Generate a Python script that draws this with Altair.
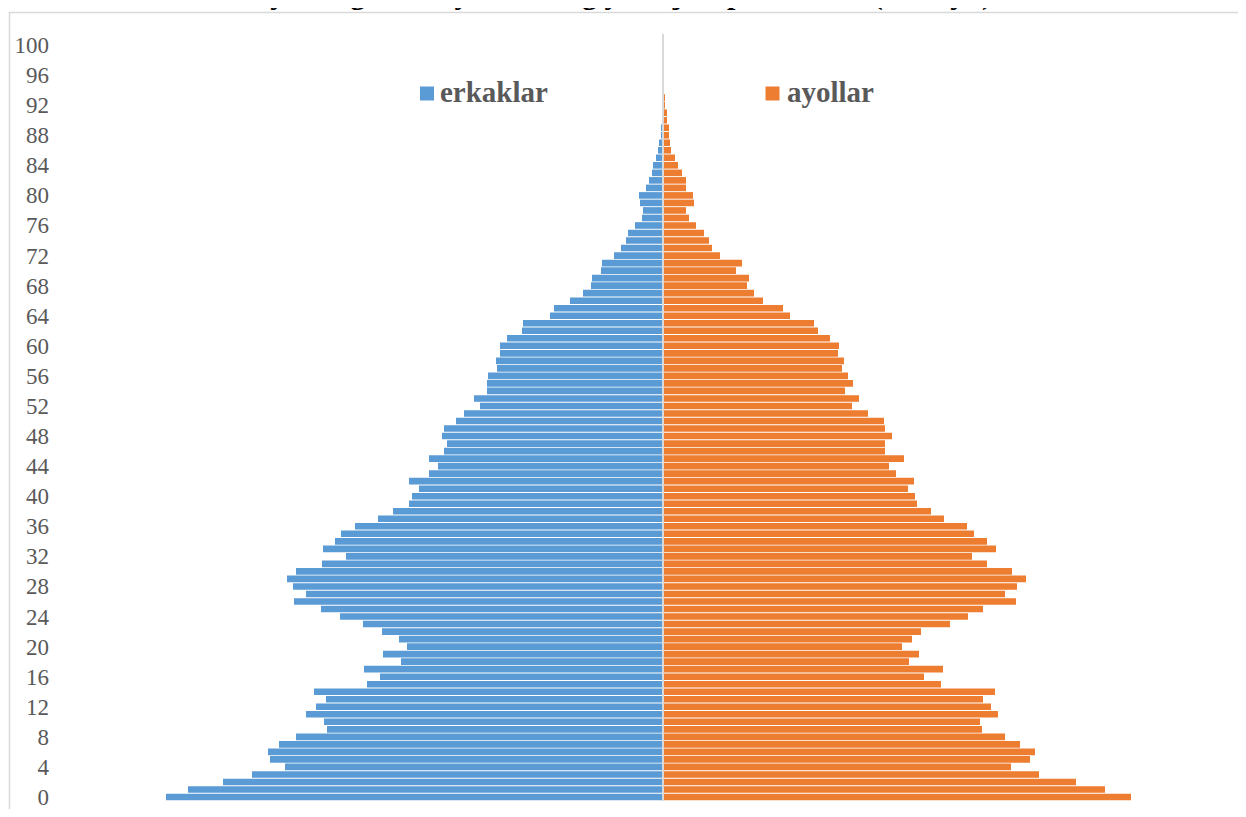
import altair as alt
import pandas as pd

# ---- data (bar lengths, arbitrary units) ----
ages = list(range(0, 101))
male = [497, 475, 440, 411, 378, 393, 395, 384, 367, 336,
        339, 357, 347, 337, 349, 296, 283, 299, 262, 280,
        256, 264, 281, 300, 323, 342, 369, 357, 370, 376,
        367, 341, 317, 340, 328, 322, 308, 285, 270, 254,
        251, 244, 254, 234, 225, 234, 219, 216, 221, 219,
        207, 199, 183, 189, 176, 176, 175, 166, 167, 163,
        163, 156, 141, 140, 113, 109, 93, 80, 72, 71,
        62, 61, 49, 42, 37, 35, 28, 21, 20, 23,
        24, 17, 14, 11, 10, 7, 5, 4, 2, 2,
        1, 1, 0.5, 0.3, 0, 0, 0, 0, 0, 0, 0]
female = [468, 442, 413, 376, 348, 367, 372, 357, 342, 319,
          317, 335, 328, 320, 332, 278, 261, 280, 246, 256,
          239, 249, 258, 287, 305, 320, 353, 342, 354, 363,
          349, 324, 309, 333, 324, 311, 304, 281, 268, 254,
          252, 245, 251, 233, 226, 241, 222, 222, 229, 222,
          221, 205, 189, 196, 182, 190, 185, 179, 181, 175,
          176, 167, 155, 151, 127, 120, 100, 91, 84, 86,
          73, 79, 57, 49, 46, 41, 33, 26, 23, 31,
          30, 23, 23, 19, 15, 12, 8, 7, 6, 6,
          4, 4, 2, 2, 1, 0, 0, 0, 0, 0, 0]
sexes = ["erkaklar", "ayollar"]
colors = ["#5b9bd5", "#ed7d31"]
tick_values = list(range(0, 101, 4))
title_text = "Viloyatidagi doimiy aholining yosh-jins piramidasi (2019 yil)"

rows = []
for a, m, f in zip(ages, male, female):
    if m > 0:
        rows.append({"age": a, "sex": sexes[0], "lo": -m, "hi": 0})
    if f > 0:
        rows.append({"age": a, "sex": sexes[1], "lo": 0, "hi": f})
df = pd.DataFrame(rows)

W, H = 1229, 797
PX_PER_AGE = 7.52
Y_TOP = 104.39
yscale = alt.Scale(domain=[Y_TOP - H / PX_PER_AGE, Y_TOP], nice=False, zero=False)
xscale = alt.Scale(domain=[-654, 575], nice=False, zero=False)
GREY = "#d9d9d9"
LABEL_GREY = "#595959"
color_scale = alt.Scale(domain=sexes, range=colors)

bars = alt.Chart(df).transform_calculate(
    y0="datum.age - 0.44", y1="datum.age + 0.44"
).mark_rect().encode(
    x=alt.X("lo:Q", scale=xscale, axis=None),
    x2="hi:Q",
    y=alt.Y("y0:Q", scale=yscale, axis=None),
    y2="y1:Q",
    color=alt.Color("sex:N", scale=color_scale, legend=None),
)

center = alt.Chart(pd.DataFrame({"x": [0], "ya": [-0.5], "yb": [101.5]})).mark_rule(
    color=GREY, strokeWidth=2
).encode(
    x=alt.X("x:Q", scale=xscale, axis=None),
    y=alt.Y("ya:Q", scale=yscale, axis=None),
    y2="yb:Q",
)

# y-axis tick labels (age), drawn inside the frame like the reference
ticks = alt.Chart(pd.DataFrame({"age": tick_values})).mark_text(
    font="Liberation Serif", fontSize=23, color=LABEL_GREY, align="right",
    baseline="middle", dy=1
).encode(
    y=alt.Y("age:Q", scale=yscale, axis=None),
    x=alt.value(40),
    text=alt.Text("age:Q"),
)

# legend (squares + bold labels)
leg_df = pd.DataFrame({"sex": sexes, "sx": [418, 763.5], "tx": [431, 778]})
leg_sq = alt.Chart(leg_df).mark_square(size=196, opacity=1).encode(
    x=alt.X("sx:Q", scale=None, axis=None),
    y=alt.value(81.5),
    color=alt.Color("sex:N", scale=color_scale, legend=None),
)
leg_tx = alt.Chart(leg_df).mark_text(
    font="Liberation Serif", fontSize=29, fontWeight="bold", color=LABEL_GREY,
    align="left", baseline="alphabetic"
).encode(
    x=alt.X("tx:Q", scale=None, axis=None),
    y=alt.value(90),
    text="sex:N",
)

frame_top = alt.Chart(pd.DataFrame({"a": [0]})).mark_rule(color=GREY, strokeWidth=1.5).encode(
    x=alt.value(0), x2=alt.value(W), y=alt.value(0.5)
)
frame_left = alt.Chart(pd.DataFrame({"a": [0]})).mark_rule(color=GREY, strokeWidth=1.5).encode(
    x=alt.value(0.5), y=alt.value(0), y2=alt.value(H)
)

title = alt.Chart(pd.DataFrame({"t": [title_text]})).mark_text(
    font="Liberation Serif", fontSize=30, fontWeight="bold", align="center",
    baseline="alphabetic", color="black"
).encode(text="t:N", x=alt.value(596), y=alt.value(-8))

chart = alt.layer(bars, center, ticks, leg_sq, leg_tx, frame_top, frame_left, title).resolve_scale(
    color="shared"
).properties(
    width=W, height=H,
    padding={"left": 1, "top": 4, "right": 0, "bottom": 0},
    autosize=alt.AutoSizeParams(type="none"),
).configure_view(stroke=None)

chart.save("out.html", embed_options={"renderer": "svg", "actions": False})
